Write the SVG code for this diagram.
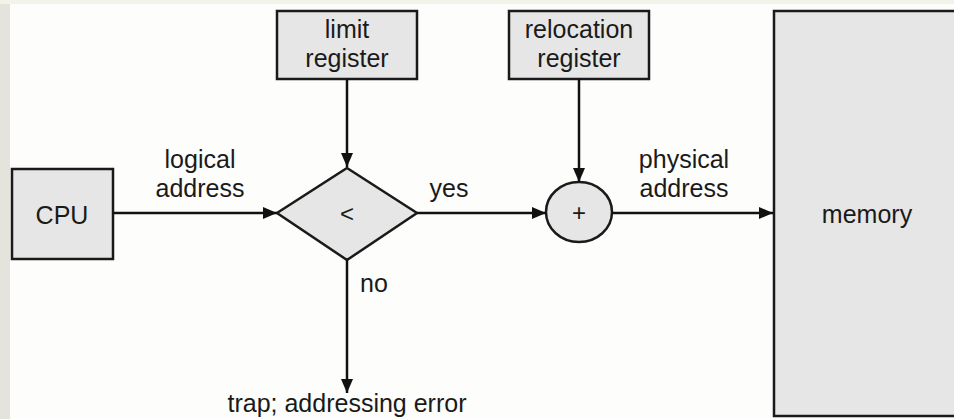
<svg xmlns="http://www.w3.org/2000/svg" width="954" height="419" viewBox="0 0 954 419">
<defs>
<marker id="ah" viewBox="0 0 14 12" refX="14" refY="6" markerWidth="14" markerHeight="12" markerUnits="userSpaceOnUse" orient="auto">
<path d="M0,0 L14,6 L0,12 Z" fill="#111"/>
</marker>
<style>
.box{fill:#e6e6e6;stroke:#1a1a1a;stroke-width:2.5}
.t{font-family:"Liberation Sans",Arial,sans-serif;font-size:25px;fill:#1a1a1a;text-anchor:middle}
.s{font-size:24px}
.c{stroke:#111;stroke-width:2.5;fill:none;marker-end:url(#ah)}
</style>
</defs>
<rect x="0" y="0" width="954" height="419" fill="#fdfdfb"/>
<rect x="0" y="0" width="10" height="419" fill="#e4e4dc"/>
<rect x="0" y="0" width="954" height="4" fill="#f3f3ea"/>
<g id="cpu">
<rect class="box" x="12" y="169" width="101" height="90"/>
<text class="t" x="62" y="224">CPU</text>
</g>
<g id="limit">
<rect class="box" x="277" y="11" width="140" height="68"/>
<text class="t" x="347" y="38">limit</text>
<text class="t" x="347" y="67">register</text>
</g>
<g id="relocation">
<rect class="box" x="509" y="11" width="140" height="68"/>
<text class="t" x="579" y="38">relocation</text>
<text class="t" x="579" y="67">register</text>
</g>
<g id="compare">
<polygon class="box" points="347,168 417,213 347,260 277,213"/>
<text class="t s" x="347" y="222">&lt;</text>
</g>
<g id="adder">
<ellipse class="box" cx="579" cy="212" rx="33" ry="30"/>
<text class="t s" x="579" y="221">+</text>
</g>
<g id="memory">
<rect class="box" x="774" y="11" width="190" height="405"/>
<text class="t" x="867" y="223">memory</text>
</g>
<g id="connectors">
<line class="c" x1="113" y1="213" x2="277" y2="213"/>
<line class="c" x1="347" y1="79" x2="347" y2="167"/>
<line class="c" x1="417" y1="213" x2="546" y2="213"/>
<line class="c" x1="579" y1="79" x2="579" y2="182"/>
<line class="c" x1="612" y1="213" x2="773" y2="213"/>
<line class="c" x1="347" y1="260" x2="347" y2="393"/>
</g>
<g id="labels">
<text class="t" x="200" y="168">logical</text>
<text class="t" x="200" y="197">address</text>
<text class="t" x="449" y="197">yes</text>
<text class="t" x="684" y="168">physical</text>
<text class="t" x="684" y="197">address</text>
<text class="t" x="374" y="292">no</text>
<text class="t" x="347" y="412">trap; addressing error</text>
</g>
</svg>
